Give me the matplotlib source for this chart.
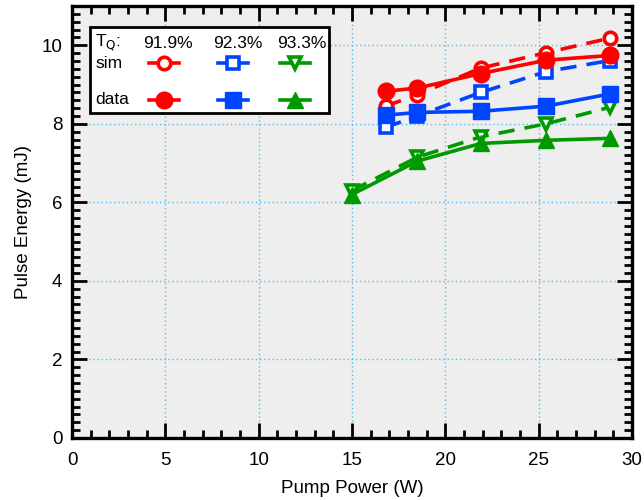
import numpy as np
import matplotlib.pyplot as plt
from matplotlib.patches import Rectangle
from matplotlib.ticker import MultipleLocator

plt.rcParams['font.family'] = ['Liberation Sans', 'DejaVu Sans']

# pump power (W) at each measurement
pump_a = [16.8, 18.5, 21.9, 25.4, 28.8]
pump_b = [15.0, 18.5, 21.9, 25.4, 28.8]

# simulated pulse energy (mJ)
sim_919 = [8.45, 8.74, 9.42, 9.81, 10.18]
sim_923 = [7.91, 8.20, 8.80, 9.33, 9.61]
sim_933 = [6.30, 7.15, 7.67, 8.00, 8.42]

# measured pulse energy (mJ)
data_919 = [8.83, 8.91, 9.28, 9.62, 9.74]
data_923 = [8.22, 8.29, 8.32, 8.45, 8.76]
data_933 = [6.20, 7.05, 7.50, 7.58, 7.63]

labels = ['91.9%', '92.3%', '93.3%']
colors = ['#ff0000', '#0044ff', '#009900']
sim_markers = ['o', 's', 'v']
data_markers = ['o', 's', '^']

fig = plt.figure(figsize=(6.44, 5.0), dpi=100)
ax = fig.add_axes([72 / 644, 62 / 500, 560 / 644, 432 / 500])
ax.set_facecolor('#eeeeee')

series = [
    (pump_a, sim_919, data_919),
    (pump_a, sim_923, data_923),
    (pump_b, sim_933, data_933),
]
for (x, sim, dat), c, ms, md in zip(series, colors, sim_markers, data_markers):
    ax.plot(x, sim, ls=(0, (4.5, 2.8)), lw=2.6, color=c, marker=ms, ms=9,
            mfc='white', mec=c, mew=2.6, zorder=3)
    ax.plot(x, dat, ls='-', lw=2.6, color=c, marker=md, ms=12,
            mfc=c, mec=c, zorder=4)

ax.set_xlim(0, 30)
ax.set_ylim(0, 11)
ax.xaxis.set_major_locator(MultipleLocator(5))
ax.xaxis.set_minor_locator(MultipleLocator(1))
ax.yaxis.set_major_locator(MultipleLocator(2))
ax.yaxis.set_minor_locator(MultipleLocator(0.2))
ax.tick_params(which='both', direction='in', top=True, right=True,
               width=2, labelsize=13.5)
ax.tick_params(axis='x', pad=10)
ax.tick_params(axis='y', pad=7)
ax.tick_params(which='major', length=11)
ax.tick_params(which='minor', length=6)
for s in ax.spines.values():
    s.set_linewidth(2.4)
ax.grid(True, which='major', color='#55bbee', ls=(0, (1, 2)), lw=1)
ax.set_axisbelow(True)

ax.set_xlabel('Pump Power (W)', fontsize=13.5, labelpad=8)
ax.set_ylabel('Pulse Energy (mJ)', fontsize=13.5, labelpad=7)

# hand-built legend block in axes fraction coords
def px(x, y):
    return ((x - 72) / 560, (438 - y) / 432)

x0, y0 = px(90, 113)
x1, y1 = px(329, 27)
ax.add_patch(Rectangle((x0, y0), x1 - x0, y1 - y0, transform=ax.transAxes,
                       facecolor='white', edgecolor='black', lw=2, zorder=6))

tx, ty = px(95, 43)
ax.text(tx, ty, r'T$_\mathrm{Q}$:', transform=ax.transAxes, fontsize=12.5,
        va='center', ha='left', zorder=7)
tx, ty = px(95, 63)
ax.text(tx, ty, 'sim', transform=ax.transAxes, fontsize=12.5,
        va='center', ha='left', zorder=7)
tx, ty = px(95, 100)
ax.text(tx, ty, 'data', transform=ax.transAxes, fontsize=12.5,
        va='center', ha='left', zorder=7)

col_text = [168, 238, 302]
col_mark = [164, 233, 295]
for lab, c, ms, md, xt, xm in zip(labels, colors, sim_markers, data_markers,
                                  col_text, col_mark):
    tx, ty = px(xt, 43)
    ax.text(tx, ty, lab, transform=ax.transAxes, fontsize=12.5,
            va='center', ha='center', zorder=7)
    xa, ya = px(xm - 15, 63)
    xb, _ = px(xm + 15, 63)
    ax.plot([xa, xb], [ya, ya], transform=ax.transAxes, color=c, lw=2.6,
            zorder=7, clip_on=False)
    ax.plot([(xa + xb) / 2], [ya], transform=ax.transAxes, marker=ms, ms=9,
            mfc='white', mec=c, mew=2.6, ls='none', zorder=8, clip_on=False)
    xa, ya = px(xm - 15, 100)
    xb, _ = px(xm + 15, 100)
    ax.plot([xa, xb], [ya, ya], transform=ax.transAxes, color=c, lw=2.6,
            zorder=7, clip_on=False)
    ax.plot([(xa + xb) / 2], [ya], transform=ax.transAxes, marker=md, ms=12,
            mfc=c, mec=c, ls='none', zorder=8, clip_on=False)

fig.savefig('out.png', dpi=100)
